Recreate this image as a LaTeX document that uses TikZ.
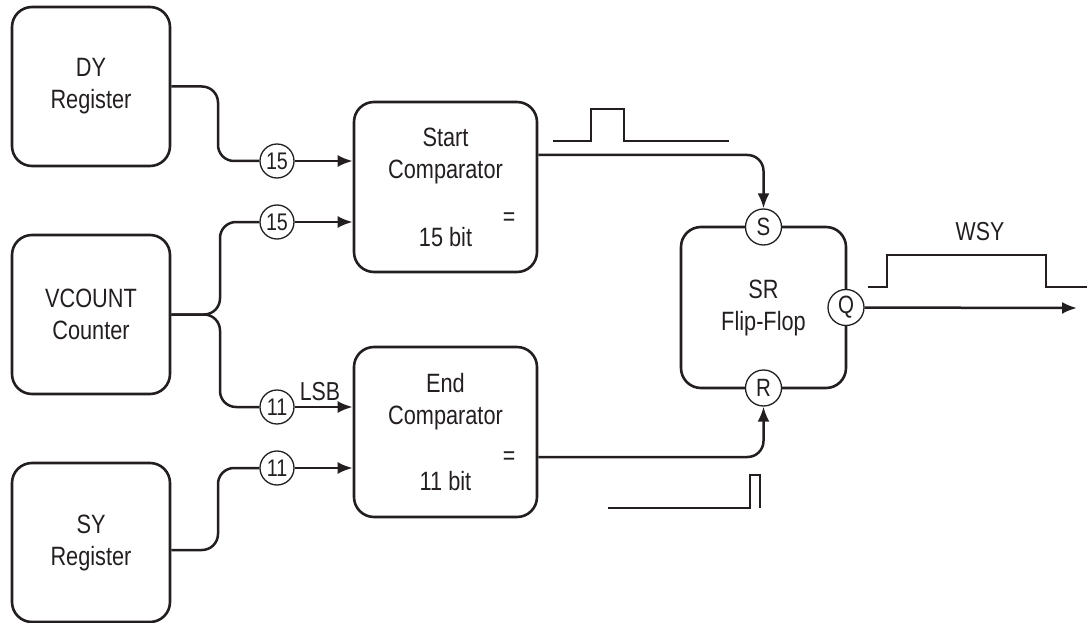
\documentclass[tikz,border=0pt]{standalone}
\usepackage{fontspec}
\setmainfont{Liberation Sans}[FakeStretch=0.82]
\usetikzlibrary{arrows.meta}
\definecolor{ink}{HTML}{231F20}
\begin{document}
\begin{tikzpicture}[x=1pt,y=-1pt,
  every node/.style={text=ink},
  blk/.style={draw=ink, line width=2.6pt, rounded corners=20pt, align=center,
    font=\fontsize{26.5}{32}\selectfont, inner sep=0pt},
  num/.style={circle, draw=ink, line width=1.3pt, fill=white, minimum size=34pt,
    inner sep=0pt, font=\fontsize{24}{24}\selectfont},
  pin/.style={num, minimum size=36pt, font=\fontsize{25}{25}\selectfont},
  lbl/.style={font=\fontsize{26}{26}\selectfont, inner sep=0pt},
  wire/.style={draw=ink, line width=2.5pt, rounded corners=16pt},
  arr/.style={wire, -{Latex[length=15pt,width=12pt]}},
  sig/.style={draw=ink, line width=2.5pt}]
\useasboundingbox (0,0) rectangle (1087,623);

% left column
\node[blk, minimum width=158pt, minimum height=159pt] (DY) at (91,86.5) {DY\\Register};
\node[blk, minimum width=158pt, minimum height=159pt] (VC) at (91,314.5) {VCOUNT\\Counter};
\node[blk, minimum width=158pt, minimum height=159pt] (SY) at (91,542.5) {SY\\Register};

% comparators
\node[blk, minimum width=183pt, minimum height=170pt] (start) at (445.5,187) {Start\\Comparator\\[36pt]15 bit};
\node[blk, minimum width=183pt, minimum height=170pt] (end) at (445.5,432) {End\\Comparator\\[34pt]11 bit};
\node[lbl] (eq1) at (509,219) {=};
\node[lbl] (eq2) at (509,458) {=};

% flip-flop
\node[blk, minimum width=165pt, minimum height=161pt] (SR) at (763.5,307.5) {SR\\Flip-Flop};
\node[pin] (S) at (763.5,227) {S};
\node[pin] (R) at (763.5,388) {R};
\node[pin] (Q) at (846,307.5) {Q};

% bus width circles
\node[num] (c1) at (277,161) {15};
\node[num] (c2) at (277,222) {15};
\node[num] (c3) at (277,407) {11};
\node[num] (c4) at (277,468) {11};
\node[lbl] (lsb) at (320,392) {LSB};

% wires
\draw[wire] (DY.east) -| (218,124) |- (c1.west);
\draw[wire] (VC.east) -| (220,270) |- (c2.west);
\draw[wire] (VC.east) -| (220,360) |- (c3.west);
\draw[wire] ([yshift=-7.5pt]SY.east) -| (218,510) |- (c4.west);
\draw[arr] (c1) -- (c1 -| start.west);
\draw[arr] (c2) -- (c2 -| start.west);
\draw[arr] (c3) -- (c3 -| end.west);
\draw[arr] (c4) -- (c4 -| end.west);
\draw[arr] ([yshift=32pt]start.east) -| (S.north);
\draw[arr] ([yshift=-25pt]end.east) -| (R.south);
\coordinate (qend) at (1077,308);
\draw[arr] (Q) -- (qend);

% waveforms
\draw[sig] (553,141) -- (591,141) -- (591,109) -- (624,109) -- (624,141) -- (729,141);
\draw[sig] (608,508) -- (750,508) -- (750,475) -- (760,475) -- (760,508);
\draw[sig] (868,287) -- (887,287) -- (887,255) -- (1046,255) -- (1046,287) -- (1087,287);
\node[lbl] (wsy) at (980,232) {WSY};
\end{tikzpicture}
\end{document}
